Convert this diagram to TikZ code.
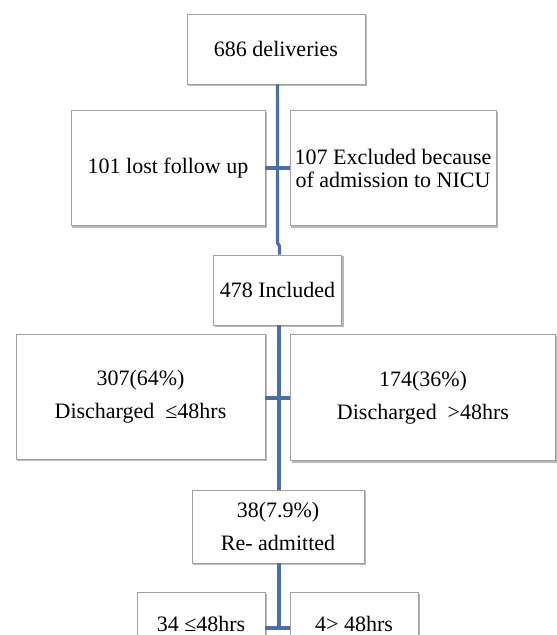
\documentclass[tikz,border=0pt]{standalone}
\usepackage{fontspec}
\setmainfont{Liberation Serif}
\usetikzlibrary{shadows}
\definecolor{linkblue}{HTML}{4A6FA3}
\definecolor{boxline}{HTML}{A0A0A0}
\definecolor{shade}{HTML}{B8B8B8}
\tikzset{
  fbox/.style={draw=boxline, line width=0.9pt, fill=white, inner sep=0pt,
    align=center, font=\fontsize{22}{23}\selectfont,
    copy shadow={shadow xshift=1.6pt, shadow yshift=-1.8pt, draw=shade, fill=shade}},
  link/.style={draw=linkblue, line width=3.2pt},
  btext/.style={font=\fontsize{22}{23}\selectfont, inner sep=0pt}
}
\begin{document}
\begin{tikzpicture}[x=1pt,y=-1pt]
\clip (0,0) rectangle (557,635);
\fill[white] (0,0) rectangle (557,635);
% boxes
\node[fbox, minimum width=178pt, minimum height=70pt] (deliv) at (276,49) {686 deliveries};
\node[fbox, minimum width=194pt, minimum height=115pt] (lost) at (168,168) {101 lost follow up};
\node[fbox, minimum width=206pt, minimum height=115pt] (excl) at (393,168) {107 Excluded because\\of admission to NICU};
\node[fbox, minimum width=128pt, minimum height=70pt] (incl) at (277.5,290) {478 Included};
\node[fbox, minimum width=249pt, minimum height=125pt] (le48) at (140.5,396.5) {307(64\%)\\[10pt]Discharged \ ≤48hrs};
\node[fbox, minimum width=265pt, minimum height=126pt] (gt48) at (423,397.5) {174(36\%)\\[10pt]Discharged \ {>}48hrs};
\node[fbox, minimum width=172pt, minimum height=73pt] (readm) at (278,526.5) {38(7.9\%)\\[10pt]Re- admitted};
\node[fbox, minimum width=128pt, minimum height=80pt, anchor=north] (r48) at (201,592) {};
\node[btext] (t48) at (201,624) {34 ≤48hrs};
\node[fbox, minimum width=128pt, minimum height=80pt, anchor=north] (r49) at (354,592) {};
\node[btext] (t49) at (354,624) {4> 48hrs};
% connectors
\coordinate (k1) at (277.5,243);
\coordinate (k2) at (279.5,246);
\draw[link] (deliv.south -| k1) -- (k1) -- (k2) -- (incl.north -| k2);
\draw[link] (lost.east) -- (excl.west);
\draw[link] (incl.south -| 279,0) -- (readm.north -| 279,0);
\draw[link] (le48.east |- 0,398) -- (gt48.west |- 0,398);
\draw[link] (readm.south -| 279,0) -- (279,628);
\draw[link] (r48.east |- 0,628) -- (r49.west |- 0,628);
\end{tikzpicture}
\end{document}
